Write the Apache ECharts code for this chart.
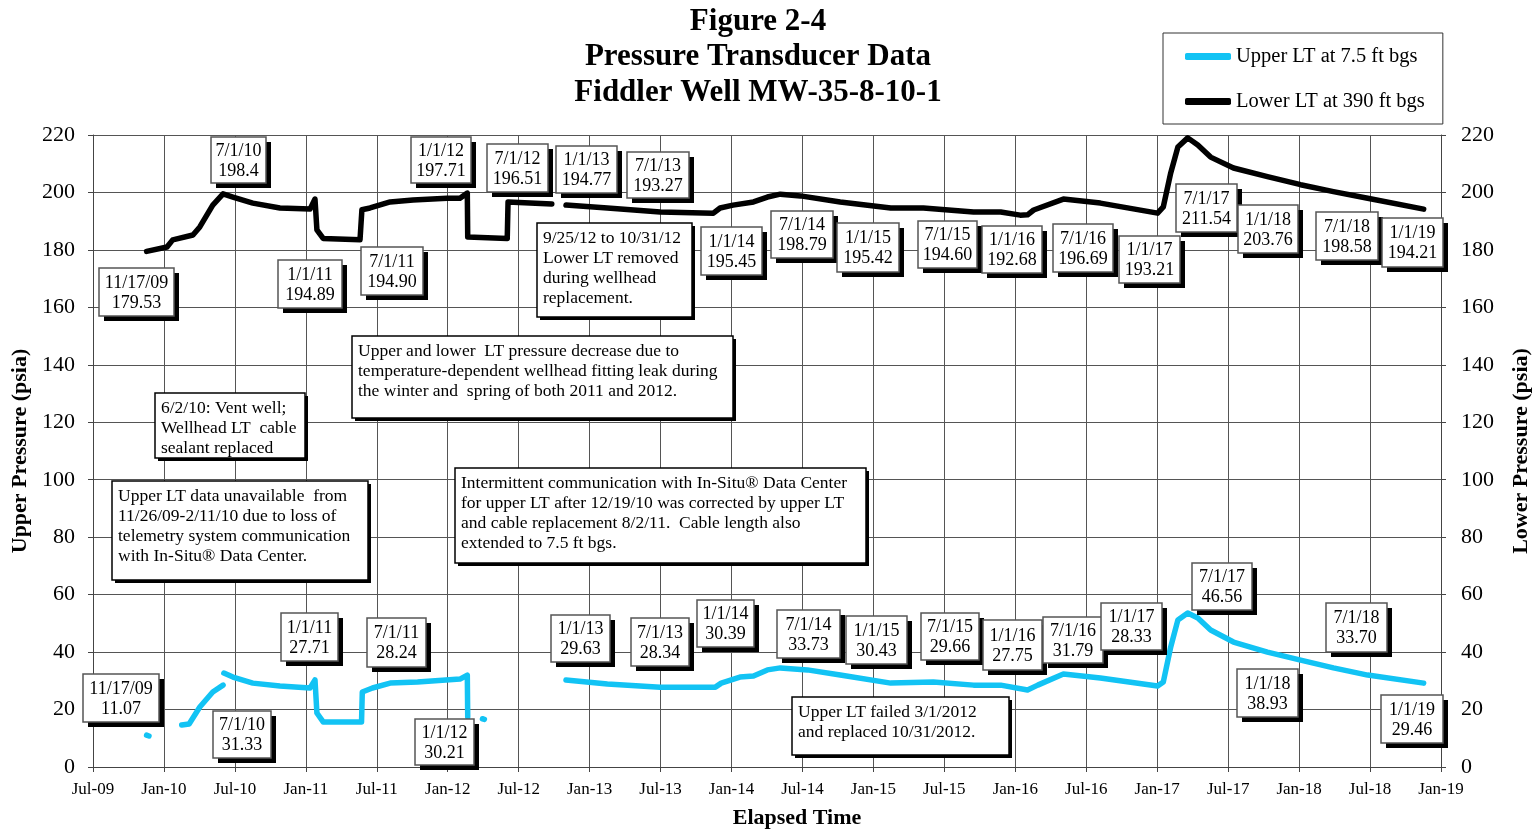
<!DOCTYPE html>
<html><head><meta charset="utf-8">
<script src="https://cdn.jsdelivr.net/npm/echarts@6/dist/echarts.min.js"></script>
<style>html,body{margin:0;padding:0;background:#fff}#c{width:1537px;height:830px}</style>
</head><body><div id="c"></div><script>
const FONT = '"Liberation Serif", "Times New Roman", serif';

// ---------- data ----------
const xTickLabels = ['Jul-09','Jan-10','Jul-10','Jan-11','Jul-11','Jan-12','Jul-12','Jan-13','Jul-13','Jan-14',
  'Jul-14','Jan-15','Jul-15','Jan-16','Jul-16','Jan-17','Jul-17','Jan-18','Jul-18','Jan-19'];

const seriesNames = ['Upper LT at 7.5 ft bgs', 'Lower LT at 390 ft bgs'];

// [date, psia]; null = gap in record
const upperLT = [
  ['2009-11-17',11.1],['2009-11-23',10.8],['2009-12-20',null],
  ['2010-02-15',14.6],['2010-03-05',15.0],['2010-04-02',20.9],['2010-05-05',26.1],['2010-06-01',28.5],['2010-06-02',null],
  ['2010-06-03',32.7],['2010-06-26',31.3],['2010-08-17',29.2],['2010-10-26',28.2],['2011-01-12',27.5],['2011-01-25',30.3],
  ['2011-01-30',18.8],['2011-02-14',15.7],['2011-05-23',15.7],['2011-05-25',26.1],['2011-06-20',27.5],['2011-08-05',29.2],
  ['2011-10-15',29.6],['2012-02-02',30.6],['2012-02-20',32.0],['2012-02-21',17.4],['2012-03-10',null],
  ['2012-03-30',16.8],['2012-04-04',16.6],['2012-06-01',null],
  ['2012-11-01',30.3],['2013-02-15',28.9],['2013-06-30',27.8],['2013-11-20',27.8],['2013-12-05',29.2],['2014-01-23',31.3],
  ['2014-02-25',31.7],['2014-04-02',33.8],['2014-05-05',34.5],['2014-07-14',33.8],['2014-10-07',32.0],['2015-02-14',29.2],
  ['2015-06-03',29.6],['2015-09-15',28.5],['2015-11-24',28.5],['2016-02-02',26.8],['2016-02-27',28.5],['2016-05-03',32.4],
  ['2016-08-07',31.0],['2017-01-02',28.2],['2017-01-17',29.6],['2017-02-05',41.8],['2017-02-22',51.2],['2017-03-19',53.6],
  ['2017-04-14',51.9],['2017-05-17',47.7],['2017-07-15',43.5],['2017-10-11',40.0],['2018-01-05',37.2],['2018-03-29',34.5],
  ['2018-06-25',32.0],['2018-11-17',29.2]
];

const lowerLT = [
  ['2009-11-17',179.5],['2010-01-09',181.0],['2010-01-24',183.5],['2010-03-15',185.2],['2010-04-02',188.0],['2010-05-05',195.6],
  ['2010-06-01',199.5],['2010-06-26',198.4],['2010-08-17',196.3],['2010-10-26',194.6],['2011-01-12',194.2],['2011-01-25',197.7],
  ['2011-01-30',187.0],['2011-02-14',184.0],['2011-05-19',183.5],['2011-05-24',194.0],['2011-06-14',194.6],['2011-08-05',196.7],
  ['2011-10-03',197.4],['2011-12-30',198.0],['2012-02-02',198.0],['2012-02-20',199.8],['2012-02-21',184.5],['2012-06-02',184.0],
  ['2012-06-04',196.7],['2012-09-25',196.0],['2012-10-15',null],
  ['2012-11-01',195.6],['2013-02-15',194.6],['2013-06-30',193.2],['2013-11-15',192.8],['2013-12-02',194.6],['2014-01-05',195.6],
  ['2014-02-25',196.7],['2014-04-02',198.4],['2014-05-05',199.4],['2014-06-26',198.8],['2014-10-07',196.7],['2015-02-14',194.6],
  ['2015-05-08',194.6],['2015-09-15',193.2],['2015-11-24',193.2],['2016-01-14',192.1],['2016-02-02',192.2],['2016-02-17',193.9],
  ['2016-05-03',197.7],['2016-08-07',196.3],['2017-01-02',192.8],['2017-01-17',195.0],['2017-02-05',206.8],['2017-02-22',215.8],
  ['2017-03-19',219.0],['2017-04-14',216.5],['2017-05-17',212.3],['2017-07-15',208.5],['2017-10-11',205.5],['2018-01-05',202.7],
  ['2018-03-29',200.3],['2018-06-25',198.0],['2018-11-17',194.2]
];

// callout label texts
const lowerCallouts = [['11/17/09','179.53'],['7/1/10','198.4'],['1/1/11','194.89'],['7/1/11','194.90'],['1/1/12','197.71'],
  ['7/1/12','196.51'],['1/1/13','194.77'],['7/1/13','193.27'],['1/1/14','195.45'],['7/1/14','198.79'],['1/1/15','195.42'],
  ['7/1/15','194.60'],['1/1/16','192.68'],['7/1/16','196.69'],['1/1/17','193.21'],['7/1/17','211.54'],['1/1/18','203.76'],
  ['7/1/18','198.58'],['1/1/19','194.21']];
const upperCallouts = [['11/17/09','11.07'],['7/1/10','31.33'],['1/1/11','27.71'],['7/1/11','28.24'],['1/1/12','30.21'],
  ['1/1/13','29.63'],['7/1/13','28.34'],['1/1/14','30.39'],['7/1/14','33.73'],['1/1/15','30.43'],['7/1/15','29.66'],
  ['1/1/16','27.75'],['7/1/16','31.79'],['1/1/17','28.33'],['7/1/17','46.56'],['1/1/18','38.93'],['7/1/18','33.70'],['1/1/19','29.46']];

const notes = [
  ['Upper and lower  LT pressure decrease due to','temperature-dependent wellhead fitting leak during','the winter and  spring of both 2011 and 2012.'],
  ['6/2/10: Vent well;','Wellhead LT  cable','sealant replaced'],
  ['Upper LT data unavailable  from','11/26/09-2/11/10 due to loss of','telemetry system communication','with In-Situ\u00AE Data Center.'],
  ['Intermittent communication with In-Situ\u00AE Data Center','for upper LT after 12/19/10 was corrected by upper LT','and cable replacement 8/2/11.  Cable length also','extended to 7.5 ft bgs.'],
  ['9/25/12 to 10/31/12','Lower LT removed','during wellhead','replacement.'],
  ['Upper LT failed 3/1/2012','and replaced 10/31/2012.']
];

// ---------- layout (pixel boxes for annotations) ----------
const lowerBoxes = [[99,268,75,48],[211,137,55,46],[278,260,64,48],[361,247,62,48],[411,137,60,46],
  [487,144,61,48],[556,146,61,47],[627,152,62,46],[701,227,61,48],[771,211,62,47],[837,223,62,49],
  [918,221,59,47],[982,226,60,47],[1053,224,60,48],[1119,236,61,47],[1176,184,61,48],[1238,205,60,48],
  [1316,212,62,48],[1382,218,61,49]];
const upperBoxes = [[83,674,76,48],[213,711,58,47],[281,613,57,48],[367,618,59,49],[415,719,59,46],
  [551,615,59,47],[631,618,58,48],[697,600,57,47],[777,610,63,48],[846,616,61,48],[921,613,58,47],
  [983,620,59,50],[1043,617,60,46],[1101,603,61,47],[1192,563,60,47],[1237,669,61,48],[1326,603,61,49],[1381,695,62,48]];
const noteBoxes = [[352,336,381,82],[155,393,150,65],[112,481,256,99],[455,468,411,95],[537,223,155,94],[792,697,217,58]];

// ---------- helpers ----------
function toMonth(s) {
  const [y, m, d] = s.split('-').map(Number);
  const dim = new Date(y, m, 0).getDate();
  return (y - 2009) * 12 + (m - 7) + (d - 1) / dim;
}
const build = arr => arr.map(([d, v]) => [toMonth(d), v]);

function calloutEls(box, lines) {
  const [x, y, w, h] = box;
  return [
    {type:'rect', z:100, shape:{x:x+5, y:y+5, width:w, height:h}, style:{fill:'#000'}},
    {type:'rect', z:101, shape:{x:x, y:y, width:w, height:h}, style:{fill:'#fff', stroke:'#555', lineWidth:1.5}},
    {type:'text', z:102, x:x + w/2, y:y + h/2 + 1,
      style:{text:lines.join('\n'), fontFamily:FONT, fontSize:18, fill:'#000', align:'center', verticalAlign:'middle', lineHeight:20}}
  ];
}
function noteEls(box, lines) {
  const [x, y, w, h] = box;
  return [
    {type:'rect', z:100, shape:{x:x+3, y:y+3, width:w, height:h}, style:{fill:'#000'}},
    {type:'rect', z:101, shape:{x:x, y:y, width:w, height:h}, style:{fill:'#fff', stroke:'#000', lineWidth:1.5}},
    {type:'text', z:102, x:x + 6, y:y + 5,
      style:{text:lines.join('\n'), fontFamily:FONT, fontSize:17.5, fill:'#000', align:'left', verticalAlign:'top', lineHeight:20}}
  ];
}

const graphics = [];
lowerCallouts.forEach((c, i) => graphics.push(...calloutEls(lowerBoxes[i], c)));
upperCallouts.forEach((c, i) => graphics.push(...calloutEls(upperBoxes[i], c)));
notes.forEach((n, i) => graphics.push(...noteEls(noteBoxes[i], n)));

const chart = echarts.init(document.getElementById('c'), null, {renderer:'canvas'});
const gridColor = '#555';
const yAxisCommon = {
  type:'value', min:0, max:220, interval:20,
  axisLine:{show:true, lineStyle:{color:'#444', width:1}},
  axisTick:{show:true, inside:false, length:5, lineStyle:{color:'#444'}},
  axisLabel:{fontFamily:FONT, fontSize:22, color:'#000'},
  nameLocation:'middle', nameRotate:90,
  nameTextStyle:{fontFamily:FONT, fontSize:22, fontWeight:'bold', color:'#000'}
};

chart.setOption({
  animation:false,
  backgroundColor:'#fff',
  title:{
    text:'Figure 2-4\nPressure Transducer Data\nFiddler Well MW-35-8-10-1',
    left:758, top:4, padding:0, textAlign:'center',
    textStyle:{fontFamily:FONT, fontSize:31, fontWeight:'bold', color:'#000', lineHeight:35.5}
  },
  legend:{
    orient:'vertical', left:1163, top:33, padding:[13,18,12,22], itemGap:24,
    itemWidth:46, itemHeight:7, icon:'roundRect',
    borderColor:'#333', borderWidth:1, backgroundColor:'#fff',
    textStyle:{fontFamily:FONT, fontSize:20.5, color:'#000'},
    data:seriesNames
  },
  grid:{left:93, right:96, top:135, bottom:63, containLabel:false, outerBoundsMode:'none'},
  xAxis:{
    type:'value', min:0, max:114, interval:6,
    axisLine:{show:true, lineStyle:{color:'#444', width:1}},
    axisTick:{show:true, inside:false, length:5, lineStyle:{color:'#444'}},
    splitLine:{show:true, lineStyle:{color:gridColor, width:1}},
    axisLabel:{fontFamily:FONT, fontSize:17, color:'#000', margin:14,
      formatter: v => xTickLabels[Math.round(v / 6)] || ''},
    name:'Elapsed Time', nameLocation:'middle', nameGap:40,
    nameTextStyle:{fontFamily:FONT, fontSize:22, fontWeight:'bold', color:'#000', padding:[0,0,0,60]}
  },
  yAxis:[
    Object.assign({}, yAxisCommon, {position:'left', name:'Upper Pressure (psia)', nameGap:53,
      axisLabel:Object.assign({}, yAxisCommon.axisLabel, {margin:18}),
      splitLine:{show:true, lineStyle:{color:gridColor, width:1}}}),
    Object.assign({}, yAxisCommon, {position:'right', name:'Lower Pressure (psia)', nameGap:69,
      axisLabel:Object.assign({}, yAxisCommon.axisLabel, {margin:20}),
      splitLine:{show:false}})
  ],
  series:[
    {name:seriesNames[0], type:'line', yAxisIndex:0, data:build(upperLT), showSymbol:false, symbol:'none',
      connectNulls:false, color:'#12C3F4', lineStyle:{width:5.5, color:'#12C3F4', cap:'round', join:'round'}, z:5},
    {name:seriesNames[1], type:'line', yAxisIndex:1, data:build(lowerLT), showSymbol:false, symbol:'none',
      connectNulls:false, color:'#000', lineStyle:{width:5.5, color:'#000', cap:'round', join:'round'}, z:5}
  ],
  graphic:{elements:graphics}
});
</script></body></html>
